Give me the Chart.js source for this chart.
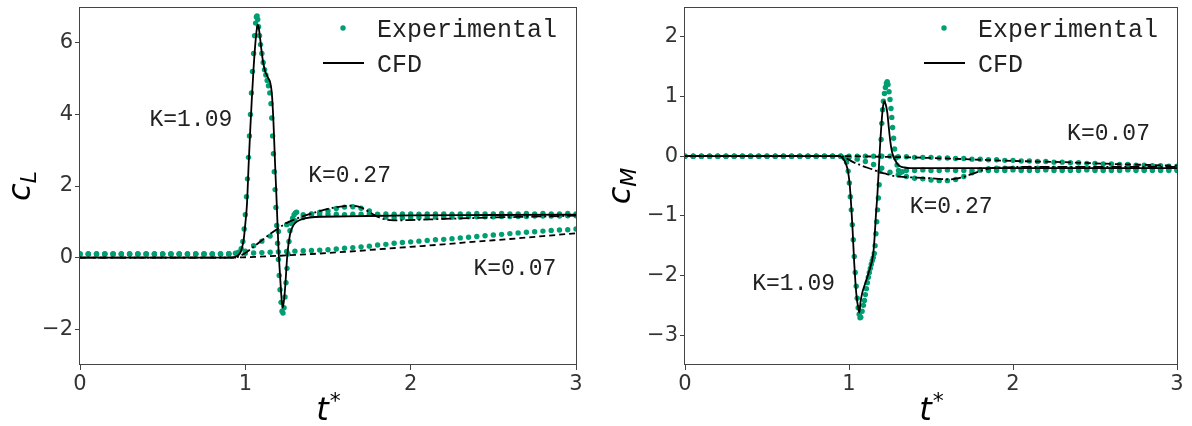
<!DOCTYPE html>
<html lang="en">
<head>
    <meta charset="UTF-8">
    <title>Lift and moment coefficients</title>
    <script src="https://cdn.jsdelivr.net/npm/chart.js"></script>
    <style>
        body { margin: 0; background: #fff; }
        #wrap { position: relative; width: 1192px; height: 426px; }
        .panel { position: absolute; top: 0; height: 426px; }
        #left { left: 0; width: 600px; }
        #right { left: 600px; width: 592px; }
    </style>
</head>
<body>
<div id="wrap">
    <div class="panel" id="left"><canvas id="cl"></canvas></div>
    <div class="panel" id="right"><canvas id="cm"></canvas></div>
</div>
<script>
// ---- data: [t*, value] ----
const xTicks = [0, 1, 2, 3];
const yTicksL = [-2, 0, 2, 4, 6];
const yTicksM = [-3, -2, -1, 0, 1, 2];

// lift coefficient, CFD
const cfdL109 = [[0,0],[0.9,0],[0.94,0.02],[0.96,0.08],[0.975,0.2],[0.99,0.5],[1.0,0.95],[1.01,1.5],[1.02,2.6],[1.03,3.6],[1.04,4.5],[1.05,5.3],[1.06,5.95],[1.07,6.4],[1.075,6.5],[1.08,6.45],[1.09,6.1],[1.1,5.7],[1.11,5.4],[1.12,5.2],[1.13,5.1],[1.14,5.0],[1.15,4.9],[1.16,4.6],[1.17,3.8],[1.18,2.6],[1.19,1.5],[1.2,0.3],[1.21,-0.5],[1.22,-1.2],[1.226,-1.4],[1.235,-1.15],[1.242,-0.76],[1.254,0.08],[1.27,0.64],[1.285,0.85],[1.3,0.96],[1.33,1.05],[1.39,1.12],[1.6,1.15],[2.0,1.18],[2.5,1.19],[3.0,1.2]];
const cfdL027 = [[0,0],[0.93,0],[0.97,0.05],[1.0,0.13],[1.05,0.3],[1.1,0.48],[1.15,0.66],[1.2,0.82],[1.25,0.97],[1.3,1.07],[1.35,1.16],[1.4,1.23],[1.45,1.3],[1.5,1.36],[1.55,1.41],[1.6,1.44],[1.65,1.45],[1.7,1.4],[1.75,1.27],[1.8,1.14],[1.85,1.06],[1.9,1.04],[2.0,1.05],[2.2,1.08],[2.5,1.12],[3.0,1.17]];
const cfdL007 = [[0,0],[0.93,0],[1.0,0.01],[1.2,0.05],[1.4,0.1],[1.6,0.16],[1.8,0.23],[2.0,0.3],[2.2,0.37],[2.4,0.45],[2.6,0.52],[2.8,0.6],[3.0,0.68]];

// lift coefficient, experiment
const expL109 = [[0,0.1],[0.05,0.1],[0.1,0.1],[0.15,0.1],[0.2,0.1],[0.25,0.1],[0.3,0.1],[0.35,0.1],[0.4,0.1],[0.45,0.1],[0.5,0.1],[0.55,0.1],[0.6,0.1],[0.65,0.1],[0.7,0.1],[0.75,0.1],[0.8,0.1],[0.85,0.1],[0.9,0.11],
  [0.94,0.12],[0.96,0.15],[0.975,0.25],[0.985,0.45],[0.993,0.8],[1.0,1.2],[1.007,1.7],[1.013,2.2],[1.019,2.8],[1.025,3.4],[1.031,4.0],[1.037,4.6],[1.043,5.2],[1.05,5.7],[1.056,6.2],[1.062,6.55],[1.067,6.72],[1.071,6.75],[1.075,6.65],[1.08,6.45],[1.086,6.2],[1.092,5.95],[1.1,5.7],[1.108,5.45],[1.116,5.25],[1.124,5.1],[1.132,4.95],[1.14,4.8],[1.148,4.6],[1.155,4.3],[1.16,3.9],[1.165,3.4],[1.17,2.9],[1.175,2.4],[1.18,1.9],[1.185,1.4],[1.19,0.9],[1.195,0.4],[1.2,-0.05],[1.205,-0.5],[1.21,-0.9],[1.216,-1.25],[1.222,-1.5],[1.228,-1.55],[1.234,-1.4],[1.24,-1.1],[1.246,-0.7],[1.252,-0.3],[1.258,0.1],[1.264,0.45],[1.27,0.75],[1.278,0.95],[1.286,1.1],[1.295,1.2],[1.303,1.25],[1.31,1.27],
  [1.35,1.2],[1.4,1.21],[1.45,1.2],[1.5,1.21],[1.55,1.21],[1.6,1.2],[1.65,1.21],[1.7,1.21],[1.75,1.22],[1.8,1.21],[1.85,1.22],[1.9,1.21],[1.95,1.22],[2.0,1.22],[2.05,1.21],[2.1,1.22],[2.15,1.22],[2.2,1.22],[2.25,1.21],[2.3,1.22],[2.35,1.22],[2.4,1.23],[2.45,1.22],[2.5,1.22],[2.55,1.23],[2.6,1.22],[2.65,1.22],[2.7,1.23],[2.75,1.22],[2.8,1.23],[2.85,1.22],[2.9,1.22],[2.95,1.23],[3.0,1.22]];
const expL027 = [[0,0.1],[0.05,0.1],[0.1,0.1],[0.15,0.1],[0.2,0.1],[0.25,0.1],[0.3,0.1],[0.35,0.1],[0.4,0.1],[0.45,0.1],[0.5,0.1],[0.55,0.1],[0.6,0.1],[0.65,0.1],[0.7,0.1],[0.75,0.1],[0.8,0.1],[0.85,0.1],[0.9,0.1],[0.95,0.12],
  [1.0,0.18],[1.05,0.33],[1.1,0.46],[1.15,0.6],[1.2,0.73],[1.25,0.92],[1.3,1.03],[1.35,1.12],[1.4,1.22],[1.45,1.27],[1.5,1.31],[1.55,1.37],[1.6,1.41],[1.65,1.42],[1.7,1.38],[1.75,1.3],[1.8,1.2],
  [1.85,1.13],[1.9,1.11],[1.95,1.11],[2.0,1.12],[2.05,1.12],[2.1,1.12],[2.15,1.13],[2.2,1.13],[2.25,1.13],[2.3,1.13],[2.35,1.14],[2.4,1.14],[2.45,1.14],[2.5,1.14],[2.55,1.15],[2.6,1.15],[2.65,1.15],[2.7,1.15],[2.75,1.16],[2.8,1.16],[2.85,1.16],[2.9,1.16],[2.95,1.17],[3.0,1.17]];
const expL007 = [[0,0.1],[0.05,0.1],[0.1,0.1],[0.15,0.1],[0.2,0.1],[0.25,0.1],[0.3,0.1],[0.35,0.1],[0.4,0.1],[0.45,0.1],[0.5,0.1],[0.55,0.1],[0.6,0.1],[0.65,0.1],[0.7,0.1],[0.75,0.1],[0.8,0.1],[0.85,0.1],[0.9,0.1],[0.95,0.11],
  [1.0,0.12],[1.05,0.13],[1.1,0.14],[1.15,0.15],[1.2,0.16],[1.25,0.17],[1.3,0.18],[1.35,0.19],[1.4,0.2],[1.45,0.21],[1.5,0.22],[1.55,0.24],[1.6,0.26],[1.65,0.28],[1.7,0.3],[1.75,0.32],[1.8,0.35],[1.85,0.37],[1.9,0.4],[1.95,0.42],[2.0,0.44],[2.05,0.46],[2.1,0.48],[2.15,0.5],[2.2,0.51],[2.25,0.53],[2.3,0.55],[2.35,0.57],[2.4,0.59],[2.45,0.61],[2.5,0.63],[2.55,0.65],[2.6,0.67],[2.65,0.69],[2.7,0.71],[2.75,0.72],[2.8,0.74],[2.85,0.76],[2.9,0.77],[2.95,0.78],[3.0,0.8]];

// moment coefficient, CFD
const cfdM109 = [[0,0],[0.94,0],[0.96,-0.03],[0.98,-0.12],[0.995,-0.27],[1.005,-0.5],[1.015,-0.9],[1.022,-1.24],[1.032,-1.8],[1.04,-2.15],[1.047,-2.37],[1.055,-2.52],[1.063,-2.62],[1.07,-2.45],[1.08,-2.3],[1.098,-2.14],[1.12,-1.95],[1.148,-1.63],[1.155,-1.4],[1.165,-0.95],[1.173,-0.65],[1.18,-0.3],[1.186,0.0],[1.192,0.3],[1.199,0.58],[1.206,0.8],[1.215,0.92],[1.222,0.88],[1.228,0.82],[1.234,0.72],[1.242,0.5],[1.25,0.29],[1.26,0.1],[1.27,0.0],[1.28,-0.06],[1.295,-0.13],[1.311,-0.17],[1.34,-0.19],[1.372,-0.2],[1.6,-0.2],[2.0,-0.2],[2.5,-0.2],[3.0,-0.2]];
const cfdM027 = [[0,0],[0.95,0],[0.98,-0.03],[1.026,-0.1],[1.07,-0.15],[1.108,-0.19],[1.15,-0.23],[1.189,-0.27],[1.23,-0.3],[1.27,-0.33],[1.34,-0.35],[1.41,-0.36],[1.5,-0.37],[1.616,-0.39],[1.67,-0.37],[1.718,-0.33],[1.77,-0.28],[1.82,-0.23],[1.87,-0.2],[1.92,-0.19],[2.1,-0.18],[2.5,-0.18],[3.0,-0.18]];
const cfdM007 = [[0,0],[1.0,0],[1.2,-0.01],[1.5,-0.03],[1.8,-0.06],[2.0,-0.08],[2.3,-0.1],[2.6,-0.13],[3.0,-0.16]];

// moment coefficient, experiment
const expM109 = [[0,0],[0.05,0],[0.1,0],[0.15,0],[0.2,0],[0.25,0],[0.3,0],[0.35,0],[0.4,0],[0.45,0],[0.5,0],[0.55,0],[0.6,0],[0.65,0],[0.7,0],[0.75,0],[0.8,0],[0.85,0],[0.9,0],[0.95,0],
  [0.97,-0.03],[0.985,-0.1],[0.995,-0.25],[1.002,-0.45],[1.008,-0.68],[1.014,-0.9],[1.02,-1.15],[1.026,-1.4],[1.032,-1.68],[1.038,-1.95],[1.044,-2.18],[1.05,-2.38],[1.056,-2.54],[1.062,-2.65],[1.067,-2.71],[1.072,-2.7],[1.08,-2.6],[1.088,-2.5],[1.094,-2.42],[1.1,-2.32],[1.106,-2.22],[1.112,-2.12],[1.118,-2.03],[1.124,-1.95],[1.13,-1.88],[1.136,-1.81],[1.142,-1.75],[1.148,-1.7],[1.154,-1.63],[1.159,-1.5],[1.164,-1.3],[1.169,-1.1],[1.174,-0.9],[1.179,-0.7],[1.184,-0.48],[1.188,-0.25],[1.192,0.0],[1.196,0.28],[1.2,0.55],[1.205,0.78],[1.21,0.92],[1.216,1.05],[1.222,1.15],[1.228,1.22],[1.233,1.25],[1.238,1.2],[1.244,1.08],[1.25,0.95],[1.256,0.8],[1.261,0.65],[1.266,0.48],[1.272,0.3],[1.278,0.12],[1.285,-0.03],[1.293,-0.15],[1.302,-0.24],[1.312,-0.28],[1.325,-0.26],
  [1.35,-0.24],[1.4,-0.24],[1.45,-0.23],[1.5,-0.24],[1.55,-0.24],[1.6,-0.23],[1.65,-0.24],[1.7,-0.24],[1.75,-0.24],[1.8,-0.23],[1.85,-0.24],[1.9,-0.24],[1.95,-0.24],[2.0,-0.23],[2.05,-0.24],[2.1,-0.24],[2.15,-0.24],[2.2,-0.23],[2.25,-0.24],[2.3,-0.24],[2.35,-0.24],[2.4,-0.24],[2.45,-0.23],[2.5,-0.24],[2.55,-0.24],[2.6,-0.24],[2.65,-0.24],[2.7,-0.23],[2.75,-0.24],[2.8,-0.24],[2.85,-0.24],[2.9,-0.24],[2.95,-0.24],[3.0,-0.24]];
const expM027 = [[0,0],[0.05,0],[0.1,0],[0.15,0],[0.2,0],[0.25,0],[0.3,0],[0.35,0],[0.4,0],[0.45,0],[0.5,0],[0.55,0],[0.6,0],[0.65,0],[0.7,0],[0.75,0],[0.8,0],[0.85,0],[0.9,0],[0.95,0],
  [1.0,-0.02],[1.05,-0.05],[1.1,-0.09],[1.15,-0.14],[1.2,-0.2],[1.25,-0.27],[1.3,-0.31],[1.35,-0.34],[1.4,-0.37],[1.45,-0.38],[1.5,-0.4],[1.55,-0.41],[1.6,-0.41],[1.65,-0.39],[1.7,-0.34],[1.75,-0.28],[1.8,-0.23],
  [1.85,-0.21],[1.9,-0.2],[1.95,-0.2],[2.0,-0.2],[2.05,-0.21],[2.1,-0.2],[2.15,-0.2],[2.2,-0.21],[2.25,-0.2],[2.3,-0.21],[2.35,-0.21],[2.4,-0.2],[2.45,-0.21],[2.5,-0.21],[2.55,-0.21],[2.6,-0.21],[2.65,-0.21],[2.7,-0.22],[2.75,-0.21],[2.8,-0.22],[2.85,-0.21],[2.9,-0.22],[2.95,-0.22],[3.0,-0.22]];
const expM007 = [[0,0],[0.05,0],[0.1,0],[0.15,0],[0.2,0],[0.25,0],[0.3,0],[0.35,0],[0.4,0],[0.45,0],[0.5,0],[0.55,0],[0.6,0],[0.65,0],[0.7,0],[0.75,0],[0.8,0],[0.85,0],[0.9,0],[0.95,0],
  [1.0,0],[1.05,0],[1.1,0],[1.15,0],[1.2,0],[1.25,0],[1.3,-0.01],[1.35,-0.01],[1.4,-0.02],[1.45,-0.02],[1.5,-0.02],[1.55,-0.03],[1.6,-0.03],[1.65,-0.04],[1.7,-0.04],[1.75,-0.05],[1.8,-0.05],[1.85,-0.06],[1.9,-0.06],[1.95,-0.07],[2.0,-0.07],[2.05,-0.08],[2.1,-0.08],[2.15,-0.09],[2.2,-0.09],[2.25,-0.1],[2.3,-0.1],[2.35,-0.11],[2.4,-0.11],[2.45,-0.12],[2.5,-0.12],[2.55,-0.13],[2.6,-0.13],[2.65,-0.14],[2.7,-0.14],[2.75,-0.15],[2.8,-0.15],[2.85,-0.16],[2.9,-0.16],[2.95,-0.17],[3.0,-0.17]];

// ---- styling ----
const GREEN = '#009E73';
const FRAME = '#444';
const SANS = "'DejaVu Sans', sans-serif";
const MONO = "'Liberation Mono', 'DejaVu Sans Mono', monospace";

const pts = arr => arr.map(([x, y]) => ({ x, y }));
const fmt = v => (v < 0 ? '\u2212' + (-v) : String(v));

// frame, legend, K labels and axis titles
const overlay = {
    id: 'overlay',
    afterDraw(chart, args, o) {
        const { ctx, chartArea: a } = chart;
        const xs = chart.scales.x, ys = chart.scales.y;
        ctx.save();

        ctx.strokeStyle = FRAME;
        ctx.lineWidth = 1;
        ctx.strokeRect(Math.round(a.left) - 0.5, Math.round(a.top) + 0.5,
            Math.round(a.right - a.left) + 1, Math.round(a.bottom - a.top) - 1);

        // K= annotations
        ctx.fillStyle = '#222';
        ctx.font = '23px ' + MONO;
        ctx.textAlign = 'left';
        ctx.textBaseline = 'middle';
        o.notes.forEach(n => ctx.fillText(n.text, xs.getPixelForValue(n.t), ys.getPixelForValue(n.v)));

        // legend
        ctx.fillStyle = GREEN;
        ctx.beginPath();
        ctx.arc(a.right - 233, a.top + 21, 2.7, 0, Math.PI * 2);
        ctx.fill();
        ctx.strokeStyle = '#000';
        ctx.lineWidth = 1.8;
        ctx.beginPath();
        ctx.moveTo(a.right - 253, a.top + 56);
        ctx.lineTo(a.right - 212, a.top + 56);
        ctx.stroke();
        ctx.fillStyle = '#222';
        ctx.font = '25px ' + MONO;
        ctx.fillText('Experimental', a.right - 199, a.top + 23);
        ctx.fillText('CFD', a.right - 199, a.top + 58);

        // y title: c with subscript
        ctx.fillStyle = '#000';
        ctx.textBaseline = 'alphabetic';
        ctx.save();
        ctx.translate(30, (a.top + a.bottom) / 2);
        ctx.rotate(-Math.PI / 2);
        ctx.font = 'italic 32px ' + SANS;
        const wc = ctx.measureText('c').width;
        ctx.font = 'italic 22px ' + SANS;
        const wsub = ctx.measureText(o.ysub).width;
        const y0 = -(wc + wsub) / 2;
        ctx.font = 'italic 32px ' + SANS;
        ctx.fillText('c', y0, 0);
        ctx.font = 'italic 22px ' + SANS;
        ctx.fillText(o.ysub, y0 + wc, 6);
        ctx.restore();

        // x title: t*
        ctx.font = 'italic 32px ' + SANS;
        const wt = ctx.measureText('t').width;
        ctx.font = '22px ' + SANS;
        const wstar = ctx.measureText('*').width;
        const x0 = (a.left + a.right) / 2 - (wt + wstar) / 2;
        ctx.font = 'italic 32px ' + SANS;
        ctx.fillText('t', x0, 420);
        ctx.font = '22px ' + SANS;
        ctx.fillText('*', x0 + wt + 1, 408);

        ctx.restore();
    }
};

function axis(min, max, ticks, fit) {
    return {
        type: 'linear',
        min: min,
        max: max,
        afterBuildTicks: s => { s.ticks = ticks.map(v => ({ value: v })); },
        afterFit: s => {
            fit(s);
            // keep the plot box where the layout padding puts it
            s.paddingTop = 0; s.paddingBottom = 0; s.paddingLeft = 0; s.paddingRight = 0;
        },
        ticks: { font: { family: SANS, size: 21 }, color: '#333', padding: 2, callback: fmt },
        grid: { drawOnChartArea: false, drawTicks: true, tickLength: 5, color: FRAME },
        border: { display: false }
    };
}

function makeChart(id, sets, yMin, yMax, yTicks, yWidth, padRight, opts) {
    const cfdStyle = { showLine: true, borderColor: '#000', borderWidth: 1.8, pointRadius: 0, fill: false, cubicInterpolationMode: 'monotone' };
    const expStyle = { showLine: false, backgroundColor: GREEN, borderWidth: 0, pointRadius: 2.7 };
    return new Chart(document.getElementById(id), {
        type: 'scatter',
        data: {
            datasets: [
                Object.assign({ label: 'CFD K=1.09', data: pts(sets[0]) }, cfdStyle),
                Object.assign({ label: 'CFD K=0.27', data: pts(sets[1]), borderDash: [10, 3, 2, 3] }, cfdStyle),
                Object.assign({ label: 'CFD K=0.07', data: pts(sets[2]), borderDash: [6, 4] }, cfdStyle),
                Object.assign({ label: 'Experimental K=1.09', data: pts(sets[3]) }, expStyle),
                Object.assign({ label: 'Experimental K=0.27', data: pts(sets[4]) }, expStyle),
                Object.assign({ label: 'Experimental K=0.07', data: pts(sets[5]) }, expStyle)
            ]
        },
        options: {
            responsive: true,
            maintainAspectRatio: false,
            animation: false,
            layout: { padding: { top: 7, right: padRight, left: 0, bottom: 0 } },
            scales: {
                x: axis(0, 3, xTicks, s => { s.height = 61; }),
                y: axis(yMin, yMax, yTicks, s => { s.width = yWidth; })
            },
            plugins: {
                legend: { display: false },
                tooltip: { enabled: false },
                overlay: opts
            }
        },
        plugins: [overlay]
    });
}

makeChart('cl', [cfdL109, cfdL027, cfdL007, expL109, expL027, expL007], -3, 7, yTicksL, 80, 24, {
    ysub: 'L',
    notes: [
        { text: 'K=1.09', t: 0.42, v: 3.86 },
        { text: 'K=0.27', t: 1.38, v: 2.27 },
        { text: 'K=0.07', t: 2.38, v: -0.31 }
    ]
});

makeChart('cm', [cfdM109, cfdM027, cfdM007, expM109, expM027, expM007], -3.5, 2.5, yTicksM, 85, 15, {
    ysub: 'M',
    notes: [
        { text: 'K=0.07', t: 2.33, v: 0.37 },
        { text: 'K=0.27', t: 1.37, v: -0.85 },
        { text: 'K=1.09', t: 0.41, v: -2.14 }
    ]
});
</script>
</body>
</html>
